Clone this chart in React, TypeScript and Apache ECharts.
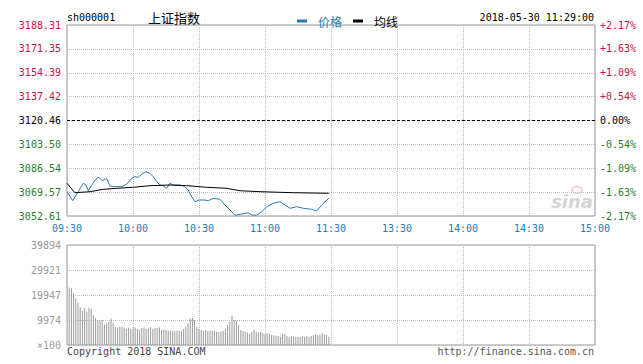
import React, { useEffect, useRef } from "react";
import * as echarts from "echarts";

const timeLabels = ["09:30", "10:00", "10:30", "11:00", "11:30", "13:30", "14:00", "14:30", "15:00"];
const priceTickLabels = ["3052.61", "3069.57", "3086.54", "3103.50", "3120.46", "3137.42", "3154.39", "3171.35", "3188.31"];
const pctTickLabels = ["-2.17%", "-1.63%", "-1.09%", "-0.54%", "0.00%", "+0.54%", "+1.09%", "+1.63%", "+2.17%"];
const volTickLabels = ["×100", "9974", "19947", "29921", "39894"];

const PRICE_MIN = 3052.61;
const PRICE_MAX = 3188.31;
const PRE_CLOSE = 3120.46;
const VOL_MAX = 39894;

// minutes since 09:30 (trading minutes)
const priceMinutes = [0, 2.6, 5.1, 7.4, 8.6, 9.7, 11.2, 13.5, 14.5, 16, 18, 19.5, 21.8, 24.9, 27.1, 29.4, 30.9, 32.4, 34, 35.8, 37.7, 39.2, 40.8, 42.3, 43.8, 45.3, 46.8, 48.3, 51.4, 53.6, 55.1, 56.7, 58.2, 60.1, 62.7, 64.2, 66.5, 69.5, 71.8, 74.1, 76.4, 79.4, 82.4, 84, 86.2, 88.5, 90.8, 93.8, 96.8, 99.1, 101.4, 104.4, 107.4, 111.2, 113.5, 115.8, 119];
const priceValues = [3069.88, 3063.48, 3069.88, 3075.84, 3074.63, 3070.58, 3074.63, 3079.39, 3080.11, 3077.69, 3079.39, 3073.92, 3073.43, 3073.43, 3075.13, 3079.39, 3080.53, 3080.11, 3082.24, 3084.08, 3082.95, 3080.53, 3076.98, 3074.63, 3073.92, 3072.29, 3075.84, 3074.63, 3074.63, 3073.43, 3071.08, 3066.32, 3062.77, 3063.98, 3063.98, 3063.48, 3065.19, 3064.47, 3060.43, 3056.87, 3053.11, 3054.03, 3054.95, 3053.32, 3053.11, 3055.67, 3059.22, 3061.63, 3062.77, 3060.43, 3058.08, 3059.22, 3058.08, 3057.37, 3056.16, 3060.43, 3065.19];

const avgMinutes = [0, 3.6, 10.5, 16.5, 22.6, 30.1, 37.7, 46.8, 54.4, 63.5, 72.6, 78.6, 87.7, 102.9, 119];
const avgValues = [3075.84, 3069.16, 3069.88, 3071.58, 3072.29, 3073.0, 3074.14, 3074.63, 3074.14, 3073.0, 3072.29, 3070.58, 3069.88, 3069.16, 3068.74];

// volumes (×100) for minutes 1..119
const volumes = [
  22900, 22600, 20600, 18600, 16900, 15000, 13700, 14600, 13300, 14900,
  14400, 12000, 10900, 10000, 9700, 10000, 8100, 8600, 9300, 10600,
  8900, 7300, 7000, 7300, 7300, 7000, 6500, 6900, 6400, 6600,
  7000, 6500, 6000, 6800, 7000, 6400, 6600, 7200, 6500, 6800,
  6900, 7000, 6000, 6200, 6000, 5700, 5700, 5700, 5600, 5700,
  5700, 5700, 6400, 7300, 8600, 10600, 11000, 10000, 7300, 6500,
  6000, 5700, 6000, 5500, 5700, 5700, 5600, 5300, 5100, 5300,
  5700, 6400, 8000, 9300, 11600, 10000, 9700, 8000, 6000, 5600,
  5300, 5000, 4400, 5300, 6000, 5300, 5100, 5200, 4700, 4400,
  4700, 4300, 4000, 3900, 3700, 3600, 3300, 4300, 4400, 3600,
  3300, 3600, 3300, 3200, 3300, 3200, 3600, 3300, 3600, 3300,
  3600, 3900, 4400, 4000, 4000, 4700, 4300, 4000, 3300,
];

const MONO = "'DejaVu Sans Mono', monospace";
const CJK = "'Noto Sans CJK SC', sans-serif";
const RED = "#c8143c";
const GREEN = "#1f7f1f";
const BLUE = "#2a7ab0";
const GRIDC = "#bdbdbd";

export default function App() {
  const ref = useRef<HTMLDivElement>(null);
  useEffect(() => {
    if (!ref.current) return;
    const chart = echarts.init(ref.current, null, { renderer: "svg" });
    const labelColor = (v: number) => (v > 4 ? RED : v < 4 ? GREEN : "#000");
    const option: any = {
      animation: false,
      backgroundColor: "#fff",
      textStyle: { fontFamily: MONO },
      legend: {
        left: 292,
        top: 10,
        icon: "rect",
        itemWidth: 10,
        itemHeight: 3,
        itemGap: 11,
        selectedMode: false,
        textStyle: { fontFamily: CJK, fontSize: 12, padding: [0, 0, 0, 6] },
        data: [
          { name: "价格", itemStyle: { color: BLUE }, textStyle: { color: BLUE } },
          { name: "均线", itemStyle: { color: "#000" }, textStyle: { color: "#000" } },
        ],
      },
      grid: [
        { left: 67, top: 25, width: 528, height: 191, show: true, borderColor: "#999", borderWidth: 1, backgroundColor: "transparent" },
        { left: 67, top: 245, width: 528, height: 100, show: true, borderColor: "#999", borderWidth: 1, backgroundColor: "transparent" },
      ],
      xAxis: [
        {
          type: "value", gridIndex: 0, min: 0, max: 240, interval: 30,
          axisLine: { show: false }, axisTick: { show: false },
          splitLine: { show: true, lineStyle: { color: GRIDC, type: "dotted" } },
          axisLabel: {
            formatter: (v: number) => timeLabels[Math.round(v / 30)] ?? "",
            color: BLUE, fontSize: 10, fontFamily: MONO, margin: 7,
          },
        },
        {
          type: "value", gridIndex: 1, min: 0, max: 240, interval: 30,
          axisLine: { show: false }, axisTick: { show: false }, axisLabel: { show: false },
          splitLine: { show: true, lineStyle: { color: GRIDC, type: "dotted" } },
        },
      ],
      yAxis: [
        { type: "value", gridIndex: 0, min: PRICE_MIN, max: PRICE_MAX, show: false, splitLine: { show: false } },
        {
          type: "value", gridIndex: 0, min: 0, max: 8, interval: 1, position: "left",
          axisLine: { show: false }, axisTick: { show: false },
          splitLine: { show: true, lineStyle: { color: GRIDC, type: "dotted" } },
          axisLabel: {
            formatter: (v: number) => priceTickLabels[Math.round(v)] ?? "",
            color: (v: number) => labelColor(Math.round(v)),
            fontSize: 10, fontFamily: MONO, margin: 6,
          },
        },
        {
          type: "value", gridIndex: 0, min: 0, max: 8, interval: 1, position: "right",
          axisLine: { show: false }, axisTick: { show: false }, splitLine: { show: false },
          axisLabel: {
            formatter: (v: number) => pctTickLabels[Math.round(v)] ?? "",
            color: (v: number) => labelColor(Math.round(v)),
            fontSize: 10, fontFamily: MONO, margin: 5,
          },
        },
        {
          type: "value", gridIndex: 1, min: 0, max: VOL_MAX, interval: VOL_MAX / 4, position: "left",
          axisLine: { show: false }, axisTick: { show: false },
          splitLine: { show: true, lineStyle: { color: GRIDC, type: "dotted" } },
          axisLabel: {
            formatter: (v: number) => volTickLabels[Math.round(v / (VOL_MAX / 4))] ?? "",
            color: "#999", fontSize: 10, fontFamily: MONO, margin: 6,
          },
        },
      ],
      series: [
        {
          name: "价格", type: "line", xAxisIndex: 0, yAxisIndex: 0, symbol: "none",
          lineStyle: { color: BLUE, width: 1 }, itemStyle: { color: BLUE },
          data: priceMinutes.map((m, i) => [m, priceValues[i]]),
          markLine: {
            silent: true, symbol: "none", label: { show: false },
            lineStyle: { color: "#000", type: [3, 2], width: 1 },
            data: [{ yAxis: PRE_CLOSE }],
          },
          z: 3,
        },
        {
          name: "均线", type: "line", xAxisIndex: 0, yAxisIndex: 0, symbol: "none",
          lineStyle: { color: "#000", width: 1 }, itemStyle: { color: "#000" },
          data: avgMinutes.map((m, i) => [m, avgValues[i]]),
          z: 4,
        },
        {
          name: "成交量", type: "bar", xAxisIndex: 1, yAxisIndex: 3, barWidth: 1,
          itemStyle: { color: "#9a9a9a" },
          data: volumes.map((v, i) => [i + 1, v]),
        },
      ],
      graphic: [
        { type: "text", x: 67, y: 17, style: { text: "sh000001", fill: "#000", font: `10px ${MONO}`, align: "left", verticalAlign: "middle" } },
        { type: "text", x: 148, y: 17, style: { text: "上证指数", fill: "#000", font: `13px ${CJK}`, align: "left", verticalAlign: "middle" } },
        { type: "text", x: 594, y: 17, style: { text: "2018-05-30 11:29:00", fill: "#000", font: `10px ${MONO}`, align: "right", verticalAlign: "middle" } },
        { type: "text", x: 67, y: 351, style: { text: "Copyright 2018 SINA.COM", fill: "#444", font: `10px ${MONO}`, align: "left", verticalAlign: "middle" } },
        { type: "text", x: 594, y: 351, style: { text: "http://finance.sina.com.cn", fill: "#555", font: `10px ${MONO}`, align: "right", verticalAlign: "middle" } },
        { type: "text", x: 593, y: 201, style: { text: "sina", fill: "#d4d4d4", font: `italic bold 18px 'DejaVu Sans', sans-serif`, align: "right", verticalAlign: "middle" } },
        { type: "ellipse", shape: { cx: 577, cy: 190, rx: 5, ry: 3.5 }, style: { fill: "none", stroke: "#f2c4c4", lineWidth: 1.5 } },
      ],
    };
    chart.setOption(option);
    return () => chart.dispose();
  }, []);
  return (
    <div
      ref={ref}
      style={{ position: "fixed", left: 0, top: 0, width: 643, height: 364, background: "#fff" }}
    />
  );
}
